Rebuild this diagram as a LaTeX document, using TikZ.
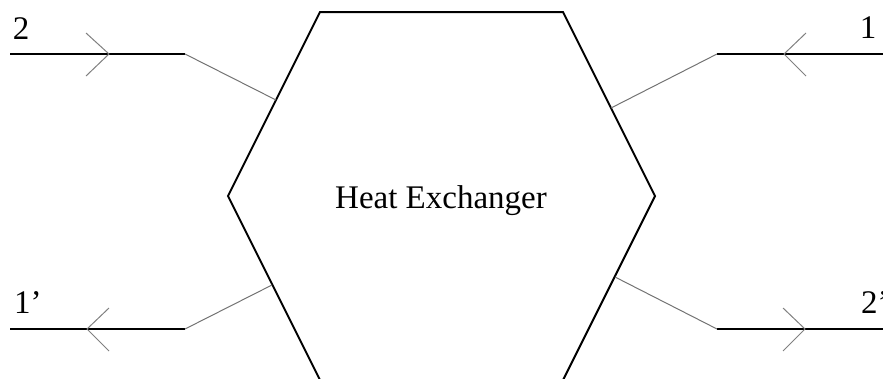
\documentclass[tikz,border=0pt]{standalone}
\usepackage{fontspec}
\setmainfont{Liberation Serif}
\begin{document}
\begin{tikzpicture}[x=1pt,y=-1pt,
  hexline/.style={line width=2pt, line join=miter},
  flow/.style={line width=1.2pt, black},
  feed/.style={line width=1pt, black!55},
  chev/.style={line width=1pt, black!50},
  lab/.style={font=\fontsize{33}{40}\selectfont, inner sep=0pt}]
\useasboundingbox (0,0) rectangle (883,378);
\clip (0,0) rectangle (883,378);
% hexagon
\coordinate (h1) at (320,12);
\coordinate (h2) at (563,12);
\coordinate (h3) at (655,196);
\coordinate (h4) at (563,380);
\coordinate (h5) at (320,380);
\coordinate (h6) at (228,196);
\draw[hexline] (h1) -- (h2) -- (h3) -- (h4) -- (h5) -- (h6) -- cycle;
\node[lab, anchor=base] (hx) at (441,208) {Heat Exchanger};
% stream 2 (in, top left)
\coordinate (a2) at (10,54);
\coordinate (b2) at (185,54);
\coordinate (p2) at (276,100);
\coordinate (t2) at (109,54);
\draw[flow] (a2) -- (b2);
\draw[feed] (b2) -- (p2);
\draw[chev] ([shift={(-23,-21)}]t2) -- (t2) -- ([shift={(-23,22)}]t2);
\node[lab, anchor=base] (l2) at (21,39) {2};
% stream 1 (in, top right)
\coordinate (a1) at (883,54);
\coordinate (b1) at (717,54);
\coordinate (p1) at (611,108);
\coordinate (t1) at (784,54);
\draw[flow] (a1) -- (b1);
\draw[feed] (b1) -- (p1);
\draw[chev] ([shift={(22,-21)}]t1) -- (t1) -- ([shift={(22,22)}]t1);
\node[lab, anchor=base] (l1) at (868,38) {1};
% stream 1' (out, bottom left)
\coordinate (a3) at (10,329);
\coordinate (b3) at (185,329);
\coordinate (p3) at (272,285);
\coordinate (t3) at (87,329);
\draw[flow] (a3) -- (b3);
\draw[feed] (b3) -- (p3);
\draw[chev] ([shift={(22,-21)}]t3) -- (t3) -- ([shift={(22,22)}]t3);
\node[lab, anchor=base west] (l3) at (14,313) {1’};
% stream 2' (out, bottom right)
\coordinate (a4) at (883,329);
\coordinate (b4) at (717,329);
\coordinate (p4) at (615,277);
\coordinate (t4) at (805,329);
\draw[flow] (a4) -- (b4);
\draw[feed] (b4) -- (p4);
\draw[chev] ([shift={(-22,-21)}]t4) -- (t4) -- ([shift={(-22,22)}]t4);
\node[lab, anchor=base west] (l4) at (861,313) {2’};
\end{tikzpicture}
\end{document}
